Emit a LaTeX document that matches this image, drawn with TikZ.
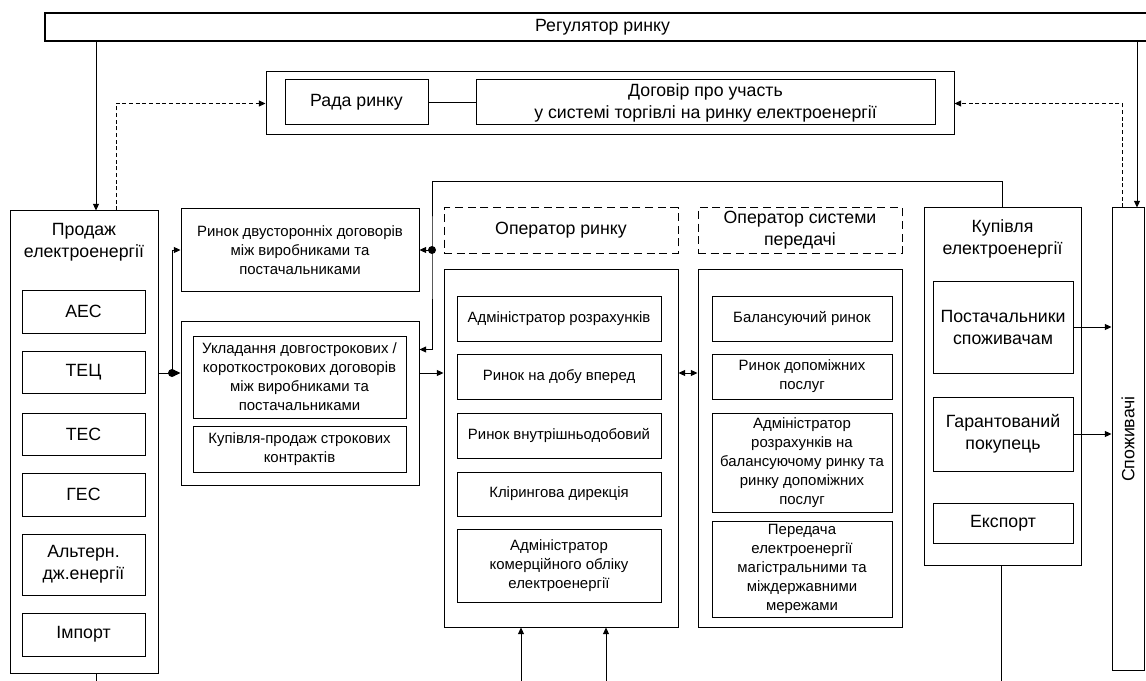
\documentclass[tikz,border=0pt]{standalone}
\usepackage{fontspec}
\setmainfont{Liberation Sans}
\usetikzlibrary{arrows.meta,calc,positioning}

\begin{document}
\begin{tikzpicture}[x=0.75pt,y=-0.75pt,
  box/.style={draw, line width=0.75pt, inner sep=0pt, align=center},
  dbox/.style={box, dash pattern=on 6pt off 3.5pt},
  sz/.style 2 args={minimum width=#1*0.75pt, minimum height=#2*0.75pt},
  big/.style={font=\fontsize{13.3}{16.5}\selectfont},
  small/.style={font=\fontsize{11.2}{14.3}\selectfont},
  arr/.style={-{Triangle[length=5pt,width=4.5pt]}, line width=0.75pt},
  dblarr/.style={{Triangle[length=5pt,width=4.5pt]}-{Triangle[length=5pt,width=4.5pt]}, line width=0.75pt},
  dasharr/.style={arr, dash pattern=on 3pt off 2pt},
  dot/.style={radius=3pt}]
\useasboundingbox (0,0) rectangle (1146,681);

% Regulator and council
\node[box, big, sz={1115}{28}, line width=1.3pt] (reg) at (602.5,27) {Регулятор ринку};
\node[box, sz={688}{63}] (radaGr) at (610,103.5) {};
\node[box, big, sz={143}{45}] (rada) at (356.5,102.5) {Рада ринку};
\node[box, big, sz={459}{45}] (dogovir) at (705.5,102.5) {Договір про участь\\у системі торгівлі на ринку електроенергії};

% Sale of electricity
\node[box, sz={148}{462}] (prodazh) at (84,442) {};
\node[big, align=center] (prodazhT) at (84,242) {Продаж\\електроенергії};
\node[box, big, sz={123}{43}] (aes) at (83.5,311.5) {АЕС};
\node[box, big, sz={123}{42}] (tec) at (83.5,372.5) {ТЕЦ};
\node[box, big, sz={123}{42}] (tes) at (83.5,434) {ТЕС};
\node[box, big, sz={123}{43}] (ges) at (83.5,494.5) {ГЕС};
\node[box, big, sz={123}{61}] (alt) at (83.5,564.5) {Альтерн.\\дж.енергії};
\node[box, big, sz={123}{43}] (imp) at (83.5,634.5) {Імпорт};

% Bilateral contracts
\node[box, small, sz={238}{82}] (bilat) at (300,250) {Ринок двусторонніх договорів\\між виробниками та\\постачальниками};
\node[box, sz={238}{164}] (ukGr) at (300,403) {};
\node[box, small, sz={213}{82}] (uklad) at (299.5,377) {Укладання довгострокових /\\короткострокових договорів\\між виробниками та\\постачальниками};
\node[box, small, sz={213}{46}] (kupPr) at (299.5,449) {Купівля-продаж строкових\\контрактів};

% Market operator
\node[dbox, big, sz={234}{45}] (opT) at (561,230.5) {Оператор ринку};
\node[box, sz={234}{358}] (op) at (561,448) {};
\node[box, small, sz={204}{45}] (admR) at (559,318.5) {Адміністратор розрахунків};
\node[box, small, sz={204}{45}] (dobu) at (559,376.5) {Ринок на добу вперед};
\node[box, small, sz={204}{45}] (vnut) at (559,435.5) {Ринок внутрішньодобовий};
\node[box, small, sz={204}{44}] (klir) at (559,494) {Клірингова дирекція};
\node[box, small, sz={204}{73}] (admK) at (559,565.5) {Адміністратор\\комерційного обліку\\електроенергії};

% Transmission system operator
\node[dbox, big, sz={204}{45}] (ospT) at (800,230.5) {Оператор системи\\передачі};
\node[box, sz={204}{358}] (osp) at (800,448) {};
\node[box, small, sz={180}{45}] (bal) at (802,318.5) {Балансуючий ринок};
\node[box, small, sz={180}{45}] (dop) at (802,376.5) {Ринок допоміжних\\послуг};
\node[box, small, sz={180}{99}] (admB) at (802,462.5) {Адміністратор\\розрахунків на\\балансуючому ринку та\\ринку допоміжних\\послуг};
\node[box, small, sz={180}{96}] (pered) at (802,569) {Передача\\електроенергії\\магістральними та\\міждержавними\\мережами};

% Purchase of electricity
\node[box, sz={157}{357}] (kup) at (1002.5,386.5) {};
\node[big, align=center] (kupT) at (1002.5,239) {Купівля\\електроенергії};
\node[box, big, sz={140}{92}] (post) at (1003,327) {Постачальники\\споживачам};
\node[box, big, sz={140}{74}] (har) at (1003,434) {Гарантований\\покупець};
\node[box, big, sz={140}{40}] (eksp) at (1003,523) {Експорт};

% Consumers
\node[box, big, sz={462}{32}, rotate=90] (spoz) at (1128,439) {Споживачі};

% Connection points
\coordinate (rp) at ($(prodazh.north)+(12,0)$);
\coordinate (rd) at ($(prodazh.north)+(32,0)$);
\coordinate (sr) at ($(spoz.east)+(9,0)$);
\coordinate (sd) at ($(spoz.east)+(-6,0)$);
\coordinate (pj) at (172,373);
\coordinate (kt) at (432,182);
\coordinate (kj) at (432,250);
\coordinate (ukIn) at ($(ukGr.north east)+(0,29)$);
\coordinate (in1) at (521,681);
\coordinate (in2) at (606,681);
\coordinate (out1) at (96,681);
\coordinate (out2) at (1001,681);

% Arrows
\draw[arr] (reg.south -| rp) -- (rp);
\draw[dasharr] (rd) |- (radaGr.west);
\draw[arr] (reg.south -| sr) -- (sr);
\draw[dasharr] (sd) |- (radaGr.east);
\draw[line width=0.75pt] (rada) -- (dogovir);

\draw[line width=0.75pt] (prodazh.east |- pj) -- (pj);
\draw[arr] (pj) -- (pj -| ukGr.west);
\draw[arr] (pj) |- (bilat.west);
\fill[dot] (pj) circle;

\draw[arr] (kup.north) |- (kt) -- (kj) |- (ukIn);
\draw[arr] (kj) -- (bilat.east);
\fill[dot] (kj) circle;

\draw[arr] (ukGr.east |- pj) -- (op.west |- pj);
\draw[dblarr] (op.east |- pj) -- (osp.west |- pj);
\draw[arr] (in1) -- (in1 |- op.south);
\draw[arr] (in2) -- (in2 |- op.south);

\draw[arr] (post.east) -- (post.east -| spoz.north);
\draw[arr] (har.east) -- (har.east -| spoz.north);

\draw[line width=0.75pt] (out1 |- prodazh.south) -- (out1);
\draw[line width=0.75pt] (out2 |- kup.south) -- (out2);

\end{tikzpicture}
\end{document}
